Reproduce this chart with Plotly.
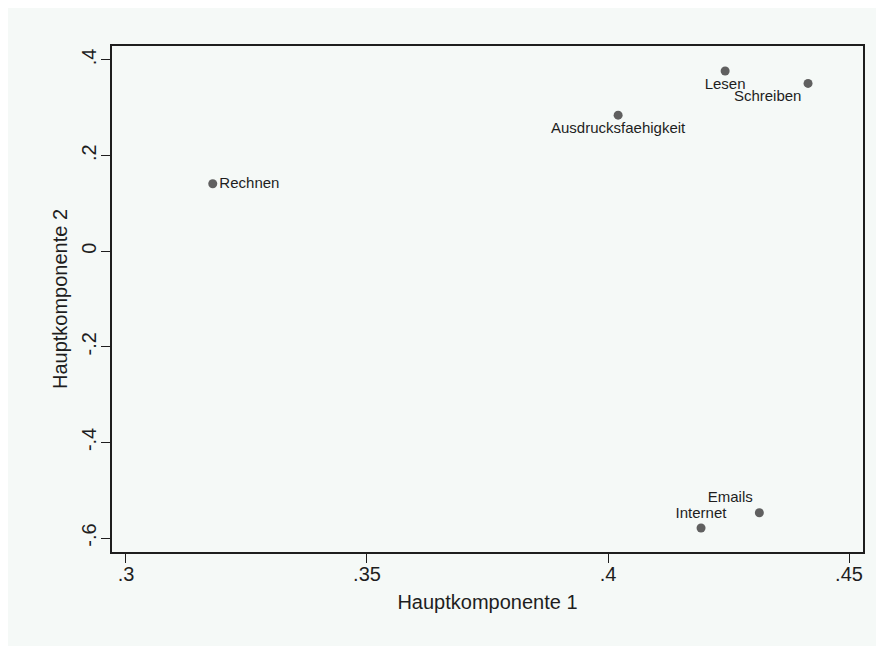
import plotly.graph_objects as go

# Data
variables = ["Rechnen", "Lesen", "Schreiben", "Ausdrucksfaehigkeit", "Internet", "Emails"]
pc1 = [0.318, 0.4243, 0.4415, 0.4021, 0.4193, 0.4314]
pc2 = [0.141, 0.377, 0.351, 0.2845, -0.579, -0.547]
label_pos = ["middle right", "bottom center", "bottom left", "bottom center", "top center", "top left"]

x_tickvals = [0.3, 0.35, 0.4, 0.45]
x_ticktext = [".3", ".35", ".4", ".45"]
y_tickvals = [-0.6, -0.4, -0.2, 0, 0.2, 0.4]
y_ticktext = ["-.6", "-.4", "-.2", "0", ".2", ".4"]

W, H = 884, 646
tint = "#F5F9F7"
ink = "#1e1e1e"
font = "Liberation Sans, Arial, sans-serif"

fig = go.Figure()
fig.add_trace(go.Scatter(
    x=pc1, y=pc2, mode="markers+text",
    text=variables, textposition=label_pos,
    textfont=dict(family=font, size=15, color=ink),
    marker=dict(size=9, color="#606060"),
    showlegend=False, cliponaxis=False,
))

axis_common = dict(
    showline=True, mirror=True, linecolor=ink, linewidth=1.6,
    ticks="outside", ticklen=9, tickwidth=1.3, tickcolor=ink,
    showgrid=False, zeroline=False,
    tickfont=dict(family=font, size=20, color=ink),
)

fig.update_xaxes(
    range=[0.2971, 0.4529], tickvals=x_tickvals, ticktext=x_ticktext,
    ticklabelstandoff=-6,
    title=dict(text="Hauptkomponente 1", font=dict(family=font, size=20, color=ink), standoff=11),
    **axis_common,
)
fig.update_yaxes(
    range=[-0.6292, 0.4292], tickvals=y_tickvals, ticktext=y_ticktext, tickangle=-90,
    ticklabelstandoff=-3,
    title=dict(text="Hauptkomponente 2", font=dict(family=font, size=20, color=ink), standoff=5),
    **axis_common,
)

fig.update_layout(
    width=W, height=H,
    margin=dict(l=104, r=29, t=38, b=102, autoexpand=False),
    paper_bgcolor=tint, plot_bgcolor=tint,
    font=dict(family=font, color=ink),
)

fig.write_html("out.html")
